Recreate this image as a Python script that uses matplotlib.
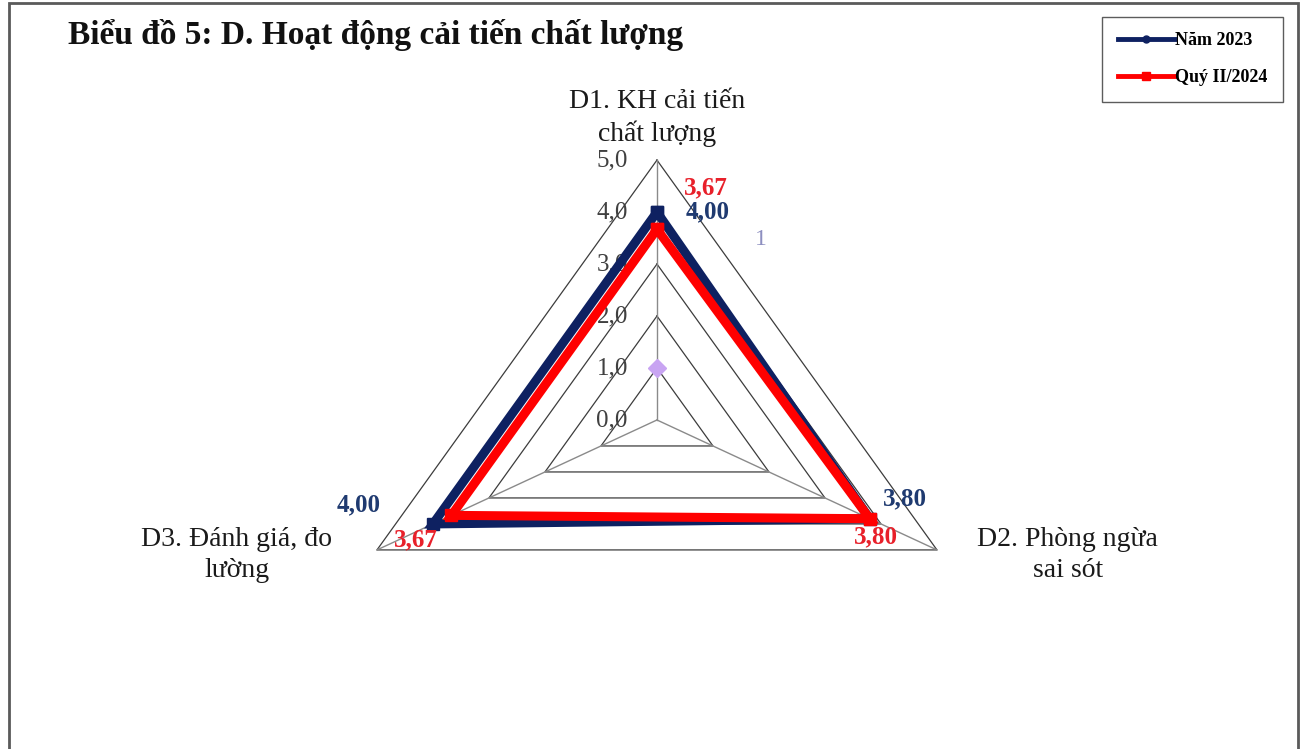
import numpy as np
import matplotlib.pyplot as plt
from matplotlib.lines import Line2D
from matplotlib.patches import Rectangle

SERIF = ['Liberation Serif', 'DejaVu Serif']

# data
categories = ['D1. KH cải tiến\nchất lượng', 'D2. Phòng ngừa\nsai sót', 'D3. Đánh giá, đo\nlường']
series_names = ['Năm 2023', 'Quý II/2024']
nam_2023 = [4.00, 3.80, 4.00]
quy2_2024 = [3.67, 3.80, 3.67]
extra_value = 1  # lone point on D1
ticks = [0, 1, 2, 3, 4, 5]
title = 'Biểu đồ 5: D. Hoạt động cải tiến chất lượng'

navy = '#0E2161'
red = '#FF0000'
navy_txt = '#1F3A70'
red_txt = '#E8202A'
lav = '#C8A4F2'

n = len(categories)
ang = np.arange(n) * 2 * np.pi / n  # clockwise from top


def to_xy(vals):
    v = np.asarray(vals, dtype=float)
    return v * np.sin(ang), v * np.cos(ang)


def fmt(v, d=2):
    return f'{v:.{d}f}'.replace('.', ',')


fig = plt.figure(figsize=(13.01, 7.49), dpi=100)
ax = fig.add_axes([0, 0, 1, 1])
ax.set_xlim(-10.16, 9.96)
ax.set_ylim(-6.33, 8.08)
ax.axis('off')

# frame around the chart
fig.add_artist(Rectangle((9 / 1301, -0.02), 1289 / 1301, 1.02 - 3 / 749,
                         transform=fig.transFigure, fill=False,
                         edgecolor='#5a5a5a', lw=2))

# grid triangles and spokes
for t in ticks[1:]:
    gx, gy = to_xy([t] * n)
    ax.plot(np.append(gx, gx[0]), np.append(gy, gy[0]), color='#3c3c3c', lw=0.9, zorder=2)
for k in range(n):
    sx, sy = np.sin(ang[k]) * ticks[-1], np.cos(ang[k]) * ticks[-1]
    ax.plot([0, sx], [0, sy], color='#8a8a8a', lw=1.0, zorder=2)

# tick labels along the top spoke
for t in ticks:
    ax.text(-0.45, t, fmt(t, 1), ha='right', va='center',
            fontsize=18, color='#404040', family=SERIF, zorder=1)

# series
for vals, col in [(nam_2023, navy), (quy2_2024, red)]:
    x, y = to_xy(vals)
    ax.plot(np.append(x, x[0]), np.append(y, y[0]), color=col, lw=6.5,
            marker='s', markersize=9, solid_joinstyle='miter', zorder=4)

ax.plot([0], [extra_value], marker='D', color=lav, markersize=9, ls='none', zorder=5)
ax.text(1.6, 3.47, str(extra_value), color='#8d8fc0', fontsize=17, family=SERIF,
        ha='center', va='center')

# data labels
nx, ny = to_xy(nam_2023)
rx, ry = to_xy(quy2_2024)
bold = dict(fontsize=18, fontweight='bold', family=SERIF, ha='center', va='center', zorder=6)
ax.text(nx[0] + 0.78, ny[0] + 0.0, fmt(nam_2023[0]), color=navy_txt, **bold)
ax.text(rx[0] + 0.75, ry[0] + 0.8, fmt(quy2_2024[0]), color=red_txt, **bold)
ax.text(nx[1] + 0.55, ny[1] + 0.38, fmt(nam_2023[1]), color=navy_txt, **bold)
ax.text(rx[1] + 0.1, ry[1] - 0.35, fmt(quy2_2024[1]), color=red_txt, **bold)
ax.text(nx[2] - 1.15, ny[2] + 0.37, fmt(nam_2023[2]), color=navy_txt, **bold)
ax.text(rx[2] - 0.55, ry[2] - 0.48, fmt(quy2_2024[2]), color=red_txt, **bold)

# category labels
lab = dict(fontsize=20, family=SERIF, color='#1a1a1a', ha='center', linespacing=1.32)
ax.text(0, 5.25, categories[0], va='bottom', **lab)
ax.text(6.35, -2.06, categories[1], va='top', **lab)
ax.text(-6.5, -2.06, categories[2], va='top', **lab)

# title
fig.text(68 / 1301, 1 - 35 / 749, title, fontsize=24, fontweight='bold', family=SERIF,
         ha='left', va='center', color='#111111')

# legend
handles = [Line2D([], [], color=navy, lw=3.5, marker='o', markersize=5),
           Line2D([], [], color=red, lw=3.5, marker='s', markersize=6)]
leg = fig.legend(handles, series_names, loc='upper right',
                 bbox_to_anchor=(1283 / 1301, 1 - 17 / 749), frameon=True, fancybox=False,
                 edgecolor='#333333', handlelength=3.2, handletextpad=0.0,
                 borderpad=0.85, labelspacing=1.1, borderaxespad=0,
                 prop={'family': SERIF, 'weight': 'bold', 'size': 13})
leg.get_frame().set_linewidth(1.0)

fig.savefig('out.png', dpi=100)
